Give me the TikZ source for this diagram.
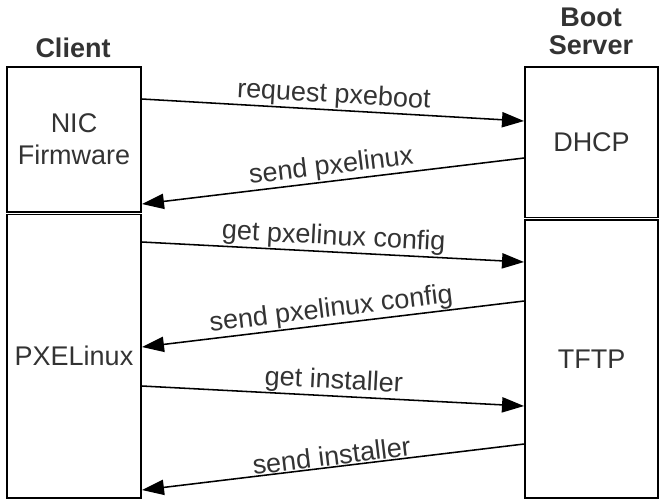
\documentclass[tikz,border=0pt]{standalone}
\usepackage{fontspec}
\setmainfont{Liberation Sans}
\usetikzlibrary{arrows.meta}
\tikzset{%
  every box/.style={
    draw,
    line width=1.4pt,
    inner sep=0pt,
    align=center,
    text=black!80,
    font=\fontsize{19.2}{22.5}\selectfont
  },
  message/.style={
    ->,
    >={Triangle[length=5.5mm,width=3.8mm]},
    line width=1.1pt
  },
}

\begin{document}
\begin{tikzpicture}
    		\tikzstyle{head}=[font=\bfseries\fontsize{19.2}{19.5}\selectfont,text=black!80,align=center]
    		\tikzstyle{msg label}=[midway,above,sloped,inner sep=0.6pt,text=black!80,font=\fontsize{19.2}{20}\selectfont]
    		\useasboundingbox (0,0) rectangle (16.575,12.575);
    		\node[head] (client) at (1.825,11.375) {Client};
    		\node[head] (server) at (14.775,11.79) {Boot\\Server};
    		\node[every box,minimum width=3.35cm,minimum height=3.625cm] (nic) at (1.85,9.0875) {NIC\\Firmware};
    		\node[every box,minimum width=3.35cm,minimum height=7.0875cm] (pxe) at (1.85,3.66875) {PXELinux};
    		\node[every box,minimum width=3.325cm,minimum height=3.7625cm] (dhcp) at (14.7875,9.01875) {DHCP};
    		\node[every box,minimum width=3.325cm,minimum height=6.95cm] (tftp) at (14.7875,3.6) {TFTP};
		    \draw[message] ([yshift=-0.825cm]nic.north east) -- ([yshift=-1.375cm]dhcp.north west) node[msg label] {request pxeboot};
    		\draw[message] ([yshift=-2.3cm]dhcp.north west) -- ([yshift=-3.45cm]nic.north east) node[msg label] {send pxelinux};
    		\draw[message] ([yshift=-0.7125cm]pxe.north east) -- ([yshift=-1.075cm]tftp.north west) node[msg label] {get pxelinux config};
    		\draw[message] ([yshift=-2.05cm]tftp.north west) -- ([yshift=-3.3375cm]pxe.north east) node[msg label] {send pxelinux config};
    		\draw[message] ([yshift=-4.3125cm]pxe.north east) -- ([yshift=-4.675cm]tftp.north west) node[msg label] {get installer};
    		\draw[message] ([yshift=-5.625cm]tftp.north west) -- ([yshift=-6.9125cm]pxe.north east) node[msg label] {send installer};
        \end{tikzpicture}
\end{document}
